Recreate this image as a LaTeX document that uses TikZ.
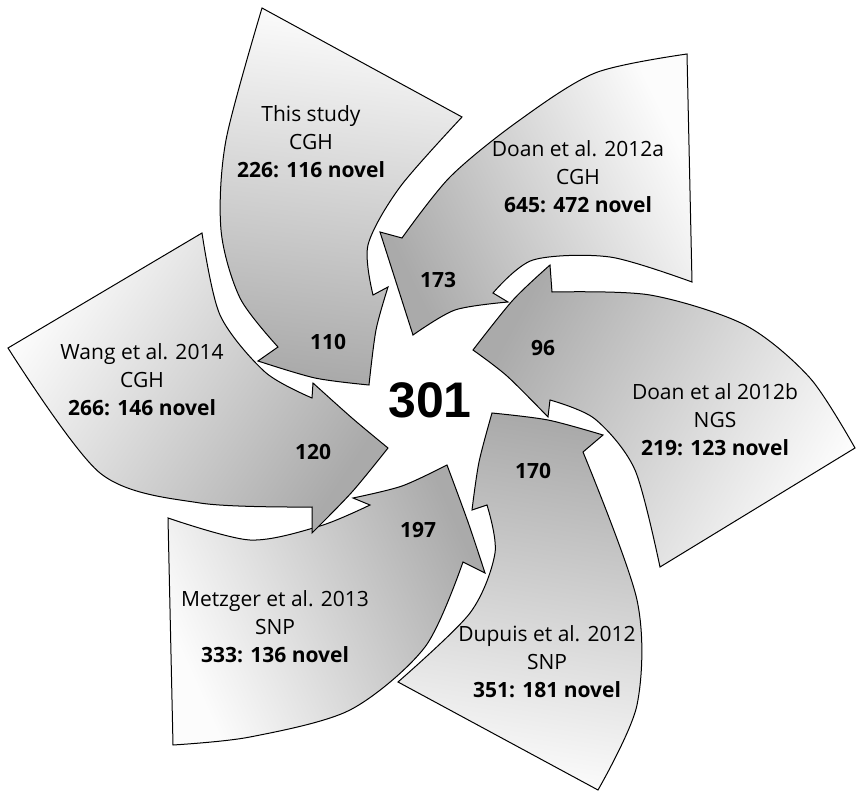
\documentclass[tikz,border=0pt]{standalone}
\usepackage{fontspec}
\setmainfont{Open Sans}
\newfontfamily\numfont{Liberation Sans}
\definecolor{headgray}{RGB}{170,170,170}
\definecolor{tailgray}{RGB}{252,252,252}
\begin{document}
\begin{tikzpicture}[x=1pt,y=-1pt,
 arr/.style={draw=black,line width=1pt,line join=miter,top color=tailgray,bottom color=headgray},
 lbl/.style={align=center,font=\fontsize{21}{28}\selectfont,inner sep=0pt},
 num/.style={font=\fontsize{21}{25}\selectfont\bfseries,inner sep=0pt}]
\useasboundingbox (0,0) rectangle (863,800);
% Arrow A: This study
\path[arr,shading angle=-7] (262,8) -- (462,117)
 -- plot[smooth] coordinates {(462,117) (400,187) (368,245) (373,295)}
 -- (388,287)
 -- plot[smooth] coordinates {(388,287) (376,330) (369,385)}
 -- plot[smooth] coordinates {(369,385) (315,378) (258,361)}
 -- (278,347)
 -- plot[smooth] coordinates {(278,347) (240,298) (221,230) (226,140) (262,8)}
 -- cycle;
% Arrow B: Doan 2012a
\path[arr,shading angle=-64] (687,54) -- (692,282)
 -- plot[smooth] coordinates {(692,282) (610,257) (533,260) (493,293)}
 -- (508,302)
 -- plot[smooth] coordinates {(508,302) (455,310) (413,335)}
 -- (380,232) -- (402,238)
 -- plot[smooth] coordinates {(402,238) (450,177) (517,122) (595,73) (687,54)}
 -- cycle;
% Arrow C: Doan 2012b
\path[arr,shading angle=-119] (855,448) -- (660,567)
 -- plot[smooth] coordinates {(660,567) (635,470) (595,419) (550,400)}
 -- (548,417)
 -- plot[smooth] coordinates {(548,417) (507,376) (473,350)}
 -- plot[smooth] coordinates {(473,350) (513,300) (550,265)}
 -- (552,292)
 -- plot[smooth] coordinates {(552,292) (650,295) (745,325) (810,378) (855,448)}
 -- cycle;
% Arrow D: Dupuis
\path[arr,shading angle=171] (398,682) -- (598,790)
 -- plot[smooth] coordinates {(598,790) (637,705) (637,600) (583,452)}
 -- (603,435)
 -- plot[smooth] coordinates {(603,435) (548,420) (492,413)}
 -- plot[smooth] coordinates {(492,413) (479,462) (472,510)}
 -- (487,505)
 -- plot[smooth] coordinates {(487,505) (495,553) (470,613) (398,682)}
 -- cycle;
% Arrow E: Metzger
\path[arr,shading angle=114] (173,745) -- (168,518)
 -- plot[smooth] coordinates {(168,518) (250,540) (320,526) (370,505)}
 -- (353,498)
 -- plot[smooth] coordinates {(353,498) (402,486) (447,465)}
 -- plot[smooth] coordinates {(447,465) (468,522) (485,573)}
 -- (463,562)
 -- plot[smooth] coordinates {(463,562) (425,647) (350,710) (250,737) (173,745)}
 -- cycle;
% Arrow F: Wang
\path[arr,shading angle=56] (8,348) -- (202,233)
 -- plot[smooth] coordinates {(202,233) (220,315) (265,372) (312,398)}
 -- (313,383)
 -- plot[smooth] coordinates {(313,383) (352,418) (388,448)}
 -- plot[smooth] coordinates {(388,448) (352,492) (312,533)}
 -- (312,507)
 -- plot[smooth] coordinates {(312,507) (200,503) (100,473) (8,348)}
 -- cycle;
% labels
\node[lbl] (la) at (311,142) {This study\\CGH\\\textbf{226: 116 novel}};
\node[lbl] (lb) at (578,177) {Doan et al. 2012a\\CGH\\\textbf{645: 472 novel}};
\node[lbl] (lc) at (715,420) {Doan et al 2012b\\NGS\\\textbf{219: 123 novel}};
\node[lbl] (ld) at (547,662) {Dupuis et al. 2012\\SNP\\\textbf{351: 181 novel}};
\node[lbl] (le) at (275,627) {Metzger et al. 2013\\SNP\\\textbf{333: 136 novel}};
\node[lbl] (lf) at (142,380) {Wang et al. 2014\\CGH\\\textbf{266: 146 novel}};
\node[num] (na) at (328,342) {110};
\node[num] (nb) at (438,280) {173};
\node[num] (nc) at (543,348) {96};
\node[num] (nd) at (533,471) {170};
\node[num] (ne) at (418,530) {197};
\node[num] (nf) at (313,452) {120};
\node[inner sep=0pt,font=\numfont\bfseries\fontsize{50}{50}\selectfont] (total) at (430,400) {301};
\end{tikzpicture}
\end{document}
